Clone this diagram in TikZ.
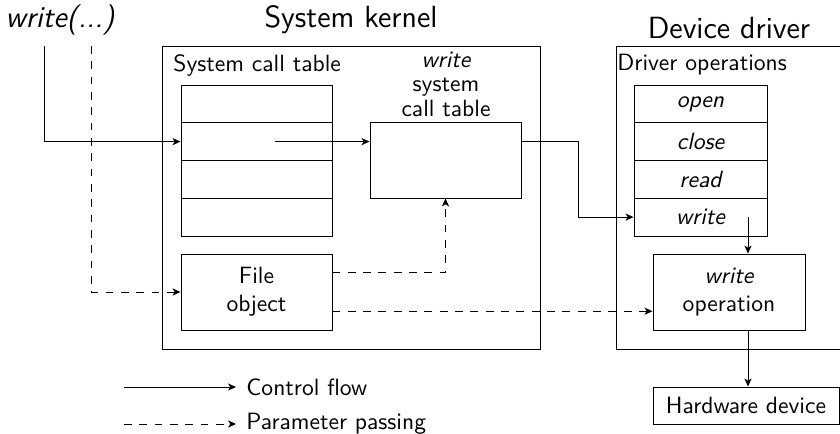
\documentclass[tikz,border=0pt]{standalone}
\usepackage{fontspec}
\usetikzlibrary{arrows.meta,calc}
\def\u{0.45pt}
\tikzset{
  every node/.style={font=\sffamily\fontsize{10.6}{12.5}\selectfont},
  box/.style={draw, line width=0.42pt, inner sep=0pt, align=center},
  title/.style={font=\sffamily\fontsize{13.8}{16}\selectfont},
  flow/.style={line width=0.42pt, -{Stealth[length=3.6pt,width=3.2pt,inset=1pt]}},
  param/.style={flow, dash pattern=on 3.5pt off 3.4pt},
}
\begin{document}
\begin{tikzpicture}[x=\u,y=-\u]
\useasboundingbox (0,0) rectangle (840,434);
\clip (0,0) rectangle (840,434);
% titles
\node[title, font=\sffamily\itshape\fontsize{13.6}{16}\selectfont] (call) at (60,20) {write(...)};
\node[title] (tk) at (351,20) {System kernel};
\node[title] (td) at (729,28) {Device driver};
% containers
\node[box, minimum width={378*\u}, minimum height={303*\u}] (kernel) at (351,197.5) {};
\node[box, minimum width={240*\u}, minimum height={303*\u}] (driver) at (736,197.5) {};
\node[anchor=west, inner sep=0pt] (sctl) at (173,65) {System call table};
\node[anchor=west, inner sep=0pt] (dol) at (617,65) {Driver operations};
% system call table
\foreach \i/\y in {1/103.9,2/141.6,3/179.4,4/217.1}{
  \node[box, minimum width={151*\u}, minimum height={37.75*\u}] (sc\i) at (256.5,\y) {};
}
% driver operations
\foreach \i/\y/\t in {1/103.9/open,2/141.6/close,3/179.4/read,4/217.1/write}{
  \node[box, minimum width={133*\u}, minimum height={37.75*\u}] (dw\i) at (700.5,\y) {\itshape\t};
}
% write system call table
\node[box, minimum width={151*\u}, minimum height={76*\u}] (wsys) at (445.5,160) {};
\node[align=center, inner sep=0pt, font=\sffamily\fontsize{10.6}{11}\selectfont] (wsysl) at (446,84) {\itshape write\\system\\call table};
% file object
\node[box, minimum width={151*\u}, minimum height={76*\u}] (fobj) at (256.5,292) {File\\object};
% write operation
\node[box, minimum width={152*\u}, minimum height={76*\u}] (wop) at (729,292) {\itshape write\\\upshape operation};
% hardware
\node[box, minimum width={186*\u}, minimum height={37*\u}] (hw) at (746,405.5) {Hardware device};
% coordinates
\coordinate (cw) at (44,46);
\coordinate (cd) at (91,46);
\coordinate (c2) at (275,141.6);
\coordinate (m) at (578,0);
\coordinate (c3) at (748,217.1);
% connectors
\draw[flow] (cw) |- (sc2.west);
\draw[param] (cd) |- (fobj.west);
\draw[flow] (c2) -- (c2 -| wsys.west);
\draw[flow] (wsys.east |- c2) -- (m |- c2) |- (dw4.west);
\draw[flow] (c3) -- (c3 |- wop.north);
\draw[flow] (c3 |- wop.south) -- (c3 |- hw.north);
\draw[param] ($(fobj.north east)!0.25!(fobj.south east)$) -| (wsys.south);
\draw[param] ($(fobj.north east)!0.75!(fobj.south east)$) coordinate (f2) -- (f2 -| wop.west);
% legend
\node[anchor=west, inner sep=0pt] (lcf) at (246,387) {Control flow};
\node[anchor=west, inner sep=0pt] (lpp) at (246,424) {Parameter passing};
\coordinate (l1) at (124,387);
\coordinate (l2) at (124,424);
\draw[flow] (l1) -- ($(lcf.west)+(-10,0)$);
\draw[param] (l2) -- ($(lpp.west)+(-10,0)$);
\end{tikzpicture}
\end{document}
